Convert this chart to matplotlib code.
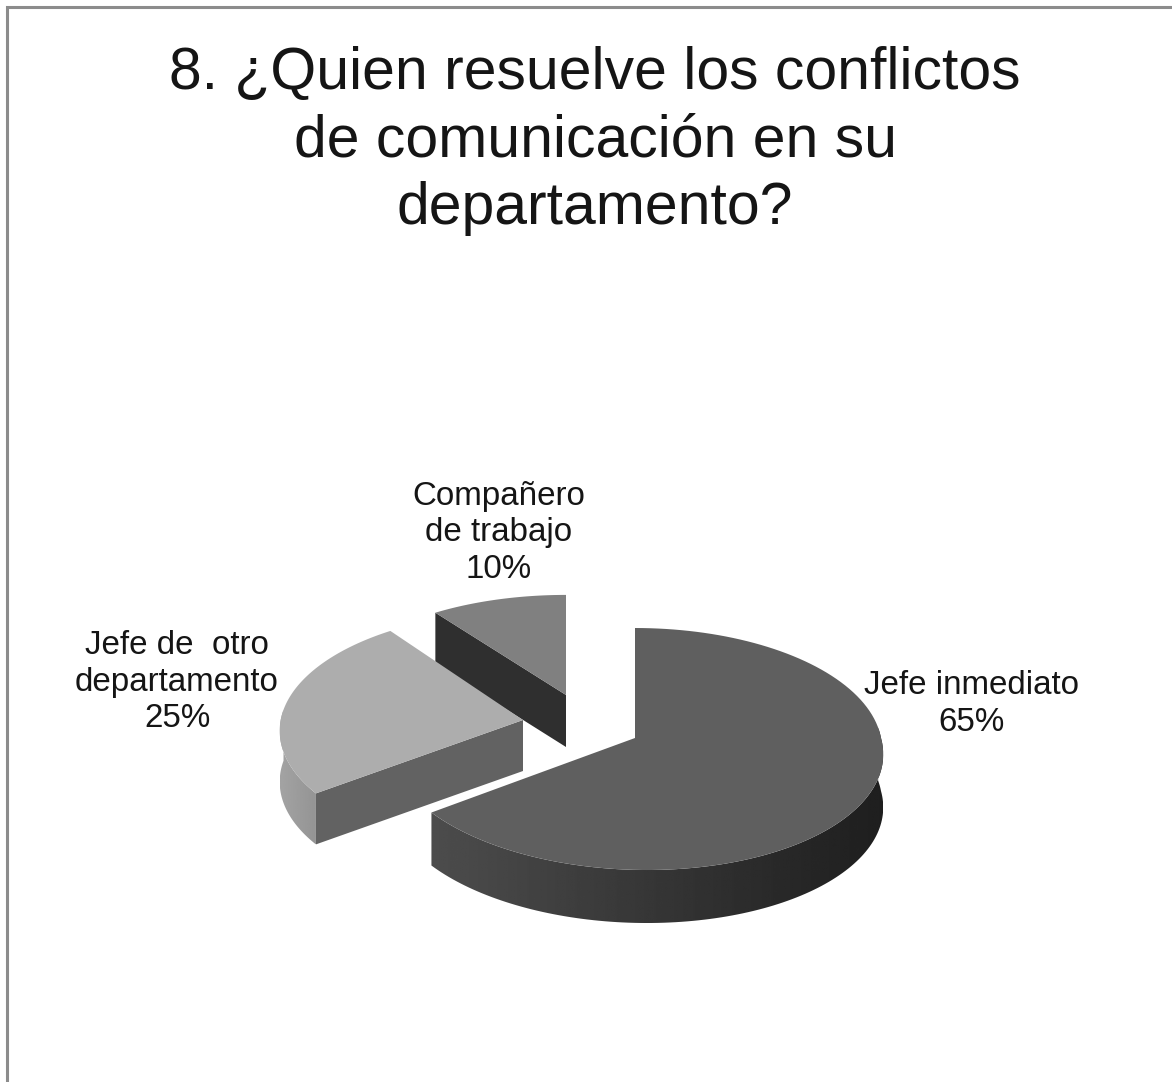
import numpy as np
import matplotlib
matplotlib.use('Agg')
import matplotlib.pyplot as plt
from matplotlib.patches import Polygon

plt.rcParams['font.family'] = ['Liberation Sans', 'DejaVu Sans']

# Survey answers, clockwise from twelve o'clock
categories = ['Jefe inmediato', 'Jefe de  otro\ndepartamento', 'Compañero\nde trabajo']
shares = [65, 25, 10]
title = '8. ¿Quien resuelve los conflictos\nde comunicación en su\ndepartamento?'

# Pixel layout of each exploded slice
apexes = [(635, 738), (523, 720), (566, 695)]
x_scales = [1.0, 0.985, 0.97]
y_scales = [1.0, 0.985, 0.91]
leans = [0.09, 0.0, 0.0]
depths = [53, 51, 52]
label_pos = [(972, 704), (177, 682), (499, 533)]
RX, RY, PERSP = 246, 120, 0.091


def rim(i, a0, a1, n=120):
    # Points on the rim of slice i, angles in degrees clockwise from the top
    t = np.radians(np.linspace(a0, a1, n))
    s = 1 / (1 + PERSP * np.cos(t))
    dy = -RY * y_scales[i] * s * np.cos(t)
    dx = RX * x_scales[i] * s * np.sin(t) + leans[i] * np.maximum(dy, 0)
    return np.column_stack([apexes[i][0] + dx, apexes[i][1] + dy])


def wall(arc, depth):
    return np.vstack([arc, (arc + [0, depth])[::-1]])


def cut_face(i, point):
    # Flat face running from a rim point back to the slice apex
    ax_x, ax_y = apexes[i]
    return np.array([point, (ax_x, ax_y), (ax_x, ax_y + depths[i]), point + [0, depths[i]]])


def shaded(ax, pts, g0, g1, zorder):
    # Horizontal grey ramp clipped to a polygon
    patch = Polygon(pts, closed=True, fc='none', ec='none', transform=ax.transData)
    ax.add_patch(patch)
    x0, x1 = pts[:, 0].min(), pts[:, 0].max()
    y0, y1 = pts[:, 1].min(), pts[:, 1].max()
    im = ax.imshow(np.linspace(g0, g1, 256).reshape(1, -1), extent=(x0, x1, y1, y0),
                   cmap='gray', vmin=0, vmax=1, aspect='auto', zorder=zorder)
    im.set_clip_path(patch)


fig = plt.figure(figsize=(11.72, 10.82), dpi=100)
ax = fig.add_axes([0, 0, 1, 1])

# Slice angles come straight from the shares
edges = np.cumsum([0] + shares) * 3.6

# Small slice, back of the stack
arc = rim(2, edges[2], edges[3])
ax.add_patch(Polygon(cut_face(2, arc[0]), closed=True, fc='#2f2f2f', ec='none', zorder=2))
ax.add_patch(Polygon(np.vstack([[apexes[2]], arc]), closed=True, fc='#808080', ec='none', zorder=3))

# Middle slice
arc = rim(1, edges[1], edges[2])
shaded(ax, wall(rim(1, edges[1], 275), depths[1]), 0.64, 0.58, 4)
ax.add_patch(Polygon(cut_face(1, arc[0]), closed=True, fc='#626262', ec='none', zorder=5))
ax.add_patch(Polygon(np.vstack([[apexes[1]], arc]), closed=True, fc='#adadad', ec='none', zorder=6))

# Large slice in front, its wall darkening towards the right
arc = rim(0, edges[0], edges[1])
shaded(ax, wall(rim(0, 85, edges[1]), depths[0]), 0.30, 0.12, 7)
ax.add_patch(Polygon(np.vstack([[apexes[0]], arc]), closed=True, fc='#5f5f5f', ec='none', zorder=8))

for name, share, (x, y) in zip(categories, shares, label_pos):
    ax.text(x, y, f'{name}\n{share}%', ha='center', va='center', fontsize=23.9,
            color='#151515', linespacing=1.24, zorder=10)

ax.text(595, 141, title, ha='center', va='center', fontsize=42.4,
        color='#151515', linespacing=1.29, zorder=10)

# Slide frame along the top and left edges
ax.plot([6.5, 6.5, 1172], [1082, 7, 7], color='#8c8c8c', lw=2.2, solid_joinstyle='miter', zorder=1)

ax.set_xlim(0, 1172)
ax.set_ylim(1082, 0)
ax.axis('off')
fig.savefig('out.png', dpi=100)
